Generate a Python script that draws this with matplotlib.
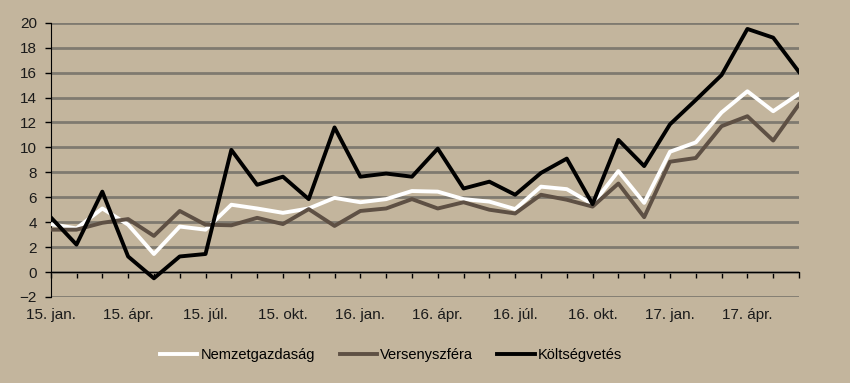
import matplotlib
matplotlib.use('Agg')
import matplotlib.pyplot as plt
import numpy as np

plt.rcParams['font.family'] = ['Liberation Sans', 'DejaVu Sans']

# monthly data, 2015 jan - 2017 jún
months = ['15. jan.', '', '', '15. ápr.', '', '', '15. júl.', '', '', '15. okt.', '', '',
          '16. jan.', '', '', '16. ápr.', '', '', '16. júl.', '', '', '16. okt.', '', '',
          '17. jan.', '', '', '17. ápr.', '', '']
nemzetgazdasag = [3.85, 3.5, 5.1, 3.8, 1.45, 3.65, 3.4, 5.4, 5.1, 4.75, 5.1, 5.95,
                  5.6, 5.85, 6.5, 6.45, 5.85, 5.65, 5.05, 6.85, 6.65, 5.45, 8.1, 5.55,
                  9.65, 10.4, 12.8, 14.5, 12.9, 14.3]
versenyszfera = [3.4, 3.4, 3.95, 4.25, 2.9, 4.9, 3.8, 3.75, 4.35, 3.85, 5.05, 3.7,
                 4.9, 5.1, 5.85, 5.1, 5.6, 5.0, 4.7, 6.2, 5.8, 5.25, 7.1, 4.4,
                 8.85, 9.15, 11.7, 12.5, 10.55, 13.45]
koltsegvetes = [4.4, 2.2, 6.45, 1.25, -0.5, 1.25, 1.45, 9.8, 7.0, 7.65, 5.85, 11.6,
                7.65, 7.9, 7.65, 9.9, 6.7, 7.25, 6.2, 7.95, 9.1, 5.45, 10.6, 8.5,
                11.85, 13.8, 15.8, 19.5, 18.8, 16.05]

bg = '#c3b59d'
fig = plt.figure(figsize=(8.5, 3.83), dpi=100, facecolor=bg)
ax = fig.add_axes([50.7 / 850, 1 - 297 / 383, (799 - 50.7) / 850, (297 - 22.7) / 383])
ax.set_facecolor(bg)

x = np.arange(len(months))
ax.plot(x, nemzetgazdasag, color='white', lw=2.8, label='Nemzetgazdaság', zorder=3)
ax.plot(x, versenyszfera, color='#5e5044', lw=2.8, label='Versenyszféra', zorder=3)
ax.plot(x, koltsegvetes, color='black', lw=2.8, label='Költségvetés', zorder=4)

ax.set_xlim(0, len(months) - 1)
ax.set_ylim(-2, 20)
ax.set_yticks(np.arange(-2, 21, 2))
ax.yaxis.grid(True, color='#7f7a70', lw=2)
ax.set_axisbelow(True)

ax.set_xticks(x)
ax.set_xticklabels(months)
ax.spines['bottom'].set_position(('data', 0))
ax.spines['bottom'].set_zorder(2.5)
for s in ['top', 'right']:
    ax.spines[s].set_visible(False)
ax.tick_params(axis='x', direction='out', length=4, width=1, pad=22, labelsize=11)
ax.tick_params(axis='y', direction='out', length=4, width=1, pad=6, labelsize=11)
for lbl in ax.get_xticklabels() + ax.get_yticklabels():
    lbl.set_color('#1a1a1a')

fig.legend(loc='center', bbox_to_anchor=(0.46, 0.073), ncol=3, frameon=False,
           fontsize=10.5, handlelength=2.55, handletextpad=0.2, columnspacing=1.7)

fig.savefig('out.png', dpi=100, facecolor=bg)
